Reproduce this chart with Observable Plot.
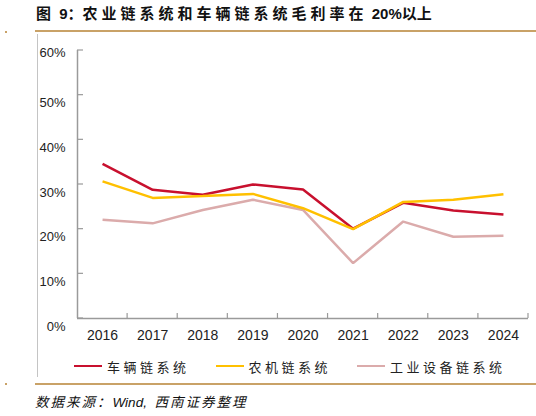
<!DOCTYPE html>
<html><head><meta charset="utf-8">
<script src="https://cdn.jsdelivr.net/npm/d3@7"></script>
<script src="https://cdn.jsdelivr.net/npm/@observablehq/plot@0.6"></script>
<style>
html,body{margin:0;padding:0;background:#fff}
body{width:536px;height:416px;position:relative;overflow:hidden;font-family:"Liberation Sans","Noto Sans CJK SC",sans-serif;color:#111}
#title{position:absolute;left:36px;top:3px;font-size:15px;font-weight:bold;white-space:nowrap;line-height:22px}
.cjk{letter-spacing:4px}
.rule{position:absolute;left:35px;width:501px;height:2px;background:#C9A267}
.dot{position:absolute;left:5px;width:2px;height:2px;background:#C9A267}
#vline{position:absolute;left:37px;top:34px;width:1px;height:343px;background:#c4c4c4}
#chart{position:absolute;left:0;top:40px}
#legend{position:absolute;left:74px;top:357px;height:18px;display:flex;align-items:center;white-space:nowrap;font-size:13px;font-family:"Noto Sans CJK SC",sans-serif;color:#222}
#legend .sw{display:inline-block;width:28px;height:2.5px;margin-right:5px}
#legend .lab{letter-spacing:3.5px;margin-right:26px}
#caption{position:absolute;left:35px;top:394px;font-size:13.5px;font-style:italic;white-space:nowrap;line-height:18px;color:#111}
#caption .cjk{letter-spacing:2px}
</style>
</head><body>
<div id="title"><span class="cjk">图</span> 9：<span class="cjk">农业链系统和车辆链系统毛利率在</span> 20%以上</div>
<div class="rule" style="top:30px"></div>
<div class="dot" style="top:31px"></div>
<div id="vline"></div>
<div id="chart"></div>
<div id="legend"></div>
<div class="rule" style="top:383px"></div>
<div class="dot" style="top:383px"></div>
<div id="caption"><span class="cjk">数据来源：</span>Wind,&nbsp; <span class="cjk">西南证券整理</span></div>
<script>
const years = [2016, 2017, 2018, 2019, 2020, 2021, 2022, 2023, 2024];
const vehicle = [34.6, 28.8, 27.7, 30.0, 28.9, 20.1, 25.9, 24.2, 23.3];
const agri = [30.7, 27.0, 27.4, 27.9, 24.7, 20.0, 26.1, 26.6, 27.8];
const industrial = [22.1, 21.3, 24.3, 26.6, 24.3, 12.4, 21.7, 18.3, 18.5];
const seriesNames = ["车辆链系统", "农机链系统", "工业设备链系统"];
const seriesColors = ["#C8102E", "#FFC000", "#DBABAB"];
const yTicks = [0, 10, 20, 30, 40, 50, 60];

const seriesValues = [vehicle, agri, industrial];
const rows = seriesNames.flatMap((name, s) =>
  years.map((year, i) => ({series: name, year, value: seriesValues[s][i]})));
const drawOrder = [2, 0, 1];

const xMin = years[0] - 0.5, xMax = years[years.length - 1] + 0.5;
const xBoundaries = years.map(y => y + 0.5);

function innerTicks(index, scales) {
  const {x, y} = scales;
  const g = d3.create("svg:g").attr("stroke", "#9a9a9a").attr("stroke-width", 1.2);
  const y0 = y(0), x0 = x(xMin);
  for (const b of xBoundaries) g.append("line").attr("x1", x(b)).attr("x2", x(b)).attr("y1", y0).attr("y2", y0 - 5);
  for (const t of yTicks) g.append("line").attr("x1", x0).attr("x2", x0 + 6).attr("y1", y(t)).attr("y2", y(t));
  return g.node();
}

const chart = Plot.plot({
  width: 536, height: 310,
  marginLeft: 77, marginRight: 8, marginTop: 10, marginBottom: 32,
  x: {domain: [xMin, xMax], axis: null},
  y: {domain: [0, 60], axis: null},
  style: {fontFamily: "'Liberation Sans', Arial, sans-serif", background: "transparent", color: "#222"},
  marks: [
    Plot.ruleX([xMin], {stroke: "#9a9a9a", strokeWidth: 1.5}),
    Plot.ruleY([0], {stroke: "#9a9a9a", strokeWidth: 1.5}),
    innerTicks,
    Plot.axisX({ticks: years, tickSize: 0, tickPadding: 12, tickFormat: d => String(d), fontSize: 14, fill: "#222", label: null}),
    Plot.axisY({ticks: yTicks.filter(t => t < 60), tickSize: 0, tickPadding: 12, tickFormat: d => d + "%", fontSize: 13, dy: 8, fill: "#222", label: null}),
    Plot.axisY({ticks: yTicks.filter(t => t === 60), tickSize: 0, tickPadding: 12, tickFormat: d => d + "%", fontSize: 13, dy: 2, fill: "#222", label: null}),
    ...drawOrder.map(s => Plot.line(rows.filter(r => r.series === seriesNames[s]), {
      x: "year", y: "value", stroke: seriesColors[s], strokeWidth: 2.5, strokeLinejoin: "miter", strokeLinecap: "butt"
    }))
  ]
});
document.getElementById("chart").appendChild(chart);

const legend = document.getElementById("legend");
seriesNames.forEach((name, i) => {
  const sw = document.createElement("span");
  sw.className = "sw"; sw.style.background = seriesColors[i];
  const lab = document.createElement("span");
  lab.className = "lab"; lab.textContent = name;
  legend.appendChild(sw); legend.appendChild(lab);
});
</script>
</body></html>
